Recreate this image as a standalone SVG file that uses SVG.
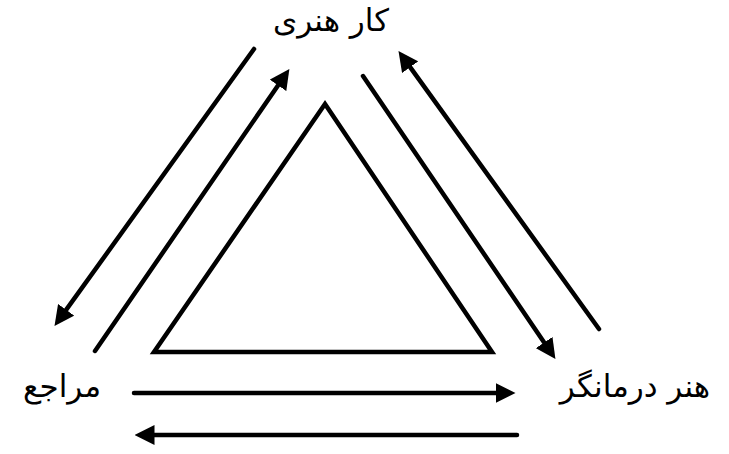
<svg xmlns="http://www.w3.org/2000/svg" width="729" height="454" viewBox="0 0 729 454">
<style>
.ln{stroke:#000;stroke-width:4.5;fill:none;stroke-linecap:round;marker-end:url(#ah)}
.lbl{font-family:"DejaVu Sans","Liberation Serif",serif;font-size:31px;fill:#000;text-anchor:middle}
</style>
<defs>
<marker id="ah" markerUnits="userSpaceOnUse" markerWidth="20" markerHeight="20" refX="6" refY="8" orient="auto" viewBox="0 0 16 16">
<path d="M0,0 L16,8 L0,16 z" fill="#000"/>
</marker>
</defs>
<rect width="729" height="454" fill="#fff"/>
<g id="triangle">
<polygon points="325,104 154,352 492,352" fill="none" stroke="#000" stroke-width="4.5" stroke-linejoin="miter"/>
</g>
<g id="node-artwork">
<text class="lbl" x="331" y="31" direction="rtl">کار هنری</text>
</g>
<g id="node-client">
<text class="lbl" x="62" y="397" direction="rtl">مراجع</text>
</g>
<g id="node-therapist">
<text class="lbl" x="635" y="397" direction="rtl">هنر درمانگر</text>
</g>
<g id="connectors">
<line class="ln" x1="254" y1="49" x2="61.8" y2="315.9"/>
<line class="ln" x1="95" y1="351" x2="282.3" y2="79.2"/>
<line class="ln" x1="363" y1="76" x2="548.4" y2="348.7"/>
<line class="ln" x1="599" y1="329" x2="405.8" y2="61.1"/>
<line class="ln" x1="134" y1="393" x2="503" y2="393"/>
<line class="ln" x1="517" y1="435" x2="147" y2="435"/>
</g>
</svg>
